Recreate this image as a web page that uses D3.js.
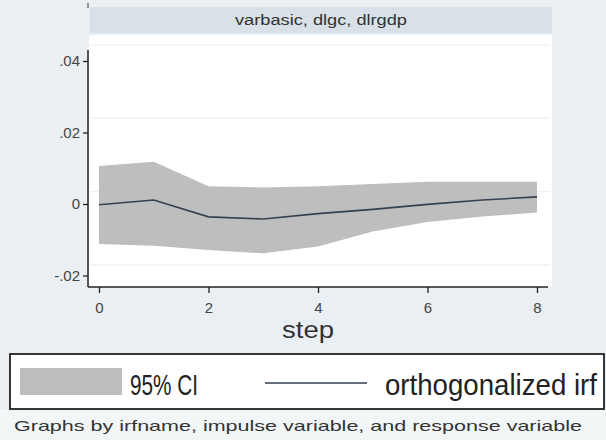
<!DOCTYPE html>
<html>
<head>
<meta charset="utf-8">
<script src="https://cdn.jsdelivr.net/npm/d3@7"></script>
<style>
  html, body { margin: 0; padding: 0; background: #e9eff2; }
  svg { display: block; }
</style>
</head>
<body>
<svg id="chart" width="606" height="440"></svg>
<script>
// ---- data ----
const steps = [0, 1, 2, 3, 4, 5, 6, 7, 8];
const irf   = [-0.0002, 0.0011, -0.0036, -0.0042, -0.0027, -0.0015, -0.0001, 0.0011, 0.0020];
const upper = [0.0106, 0.0118, 0.0050, 0.0046, 0.0050, 0.0056, 0.0062, 0.0062, 0.0062];
const lower = [-0.0112, -0.0117, -0.0129, -0.0138, -0.0119, -0.0077, -0.0050, -0.0035, -0.0024];
const yTicks = [-0.02, 0, 0.02, 0.04];
const yTickLabels = ["-.02", "0", ".02", ".04"];
const xTicks = [0, 2, 4, 6, 8];
const gridValues = [0.0445, 0.0240, 0.0035, -0.0170];
const panelTitle = "varbasic, dlgc, dlrgdp";
const xTitle = "step";
const legendLabels = ["95% CI", "orthogonalized irf"];
const note = "Graphs by irfname, impulse variable, and response variable";

const svg = d3.select("#chart");
const font = "'Liberation Sans', Arial, sans-serif";

// backgrounds
svg.append("rect").attr("x", 0).attr("y", 0).attr("width", 606).attr("height", 440).attr("fill", "#e9eff2");
svg.append("rect").attr("x", 0).attr("y", 409).attr("width", 606).attr("height", 31).attr("fill", "#f3f6f7");

// panel header strip
svg.append("rect").attr("x", 90).attr("y", 7).attr("width", 462).attr("height", 26).attr("fill", "#d7e1e7");
svg.append("text").attr("x", 321).attr("y", 25).attr("text-anchor", "middle")
  .attr("font-family", font).attr("font-size", 14).attr("fill", "#333")
  .attr("textLength", 172).attr("lengthAdjust", "spacingAndGlyphs")
  .text(panelTitle);

// plot region
svg.append("rect").attr("x", 89).attr("y", 35).attr("width", 463).attr("height", 252).attr("fill", "#ffffff");

const x = d3.scaleLinear().domain([0, 8]).range([99, 537]);
const y = d3.scaleLinear().domain([-0.02, 0.04]).range([275.5, 61]);

// faint gridlines
svg.append("g").selectAll("line").data(gridValues).join("line")
  .attr("x1", 90).attr("x2", 550)
  .attr("y1", d => y(d)).attr("y2", d => y(d))
  .attr("stroke", "#eceff4").attr("stroke-width", 1.2);

// CI band
const bandData = steps.map((s, i) => ({ s, lo: lower[i], hi: upper[i] }));
svg.append("path").datum(bandData)
  .attr("d", d3.area().x(d => x(d.s)).y0(d => y(d.lo)).y1(d => y(d.hi)))
  .attr("fill", "#bebebe");

// IRF line
const lineData = steps.map((s, i) => ({ s, v: irf[i] }));
svg.append("path").datum(lineData)
  .attr("d", d3.line().x(d => x(d.s)).y(d => y(d.v)))
  .attr("fill", "none").attr("stroke", "#34414f").attr("stroke-width", 1.6);

// y axis
const yAxis = d3.axisLeft(y).tickValues(yTicks)
  .tickFormat((d, i) => yTickLabels[i]).tickSize(5).tickPadding(3);
const gy = svg.append("g").attr("transform", "translate(88,0)").call(yAxis);
gy.select(".domain").attr("d", `M0,${50}V${287}`).attr("stroke", "#222").attr("stroke-width", 1.5);
gy.selectAll(".tick line").attr("stroke", "#222").attr("stroke-width", 1.3);
gy.selectAll(".tick text").attr("font-family", font).attr("font-size", 15).attr("fill", "#444");

// small mark at top
svg.append("line").attr("x1", 88).attr("x2", 88).attr("y1", 3).attr("y2", 8)
  .attr("stroke", "#555").attr("stroke-width", 1.2);

// x axis
const xAxis = d3.axisBottom(x).tickValues(xTicks).tickFormat(d3.format("d")).tickSize(6).tickPadding(9);
const gx = svg.append("g").attr("transform", "translate(0,287)").call(xAxis);
gx.select(".domain").attr("d", "M88,0H548").attr("stroke", "#222").attr("stroke-width", 1.5);
gx.selectAll(".tick line").attr("stroke", "#222").attr("stroke-width", 1.3);
gx.selectAll(".tick text").attr("font-family", font).attr("font-size", 15).attr("fill", "#444");

svg.append("text").attr("x", 308).attr("y", 338).attr("text-anchor", "middle")
  .attr("font-family", font).attr("font-size", 23).attr("fill", "#333")
  .attr("textLength", 52).attr("lengthAdjust", "spacingAndGlyphs")
  .text(xTitle);

// legend box
svg.append("rect").attr("x", 10).attr("y", 354).attr("width", 594).attr("height", 55)
  .attr("fill", "#ffffff").attr("stroke", "#222").attr("stroke-width", 1.8);
svg.append("rect").attr("x", 20).attr("y", 368).attr("width", 102).attr("height", 27).attr("fill", "#bebebe");
svg.append("text").attr("transform", "translate(130,395) scale(1,1.15)")
  .attr("font-family", font).attr("font-size", 25).attr("fill", "#222")
  .attr("textLength", 68).attr("lengthAdjust", "spacingAndGlyphs")
  .text(legendLabels[0]);
svg.append("line").attr("x1", 265).attr("x2", 367).attr("y1", 383).attr("y2", 383)
  .attr("stroke", "#34414f").attr("stroke-width", 1.6);
svg.append("text").attr("transform", "translate(385,395) scale(1,1.15)")
  .attr("font-family", font).attr("font-size", 25).attr("fill", "#222")
  .attr("textLength", 212).attr("lengthAdjust", "spacingAndGlyphs")
  .text(legendLabels[1]);

// note
svg.append("text").attr("x", 14).attr("y", 431)
  .attr("font-family", font).attr("font-size", 15).attr("fill", "#333")
  .attr("textLength", 568).attr("lengthAdjust", "spacingAndGlyphs")
  .text(note);
</script>
</body>
</html>
